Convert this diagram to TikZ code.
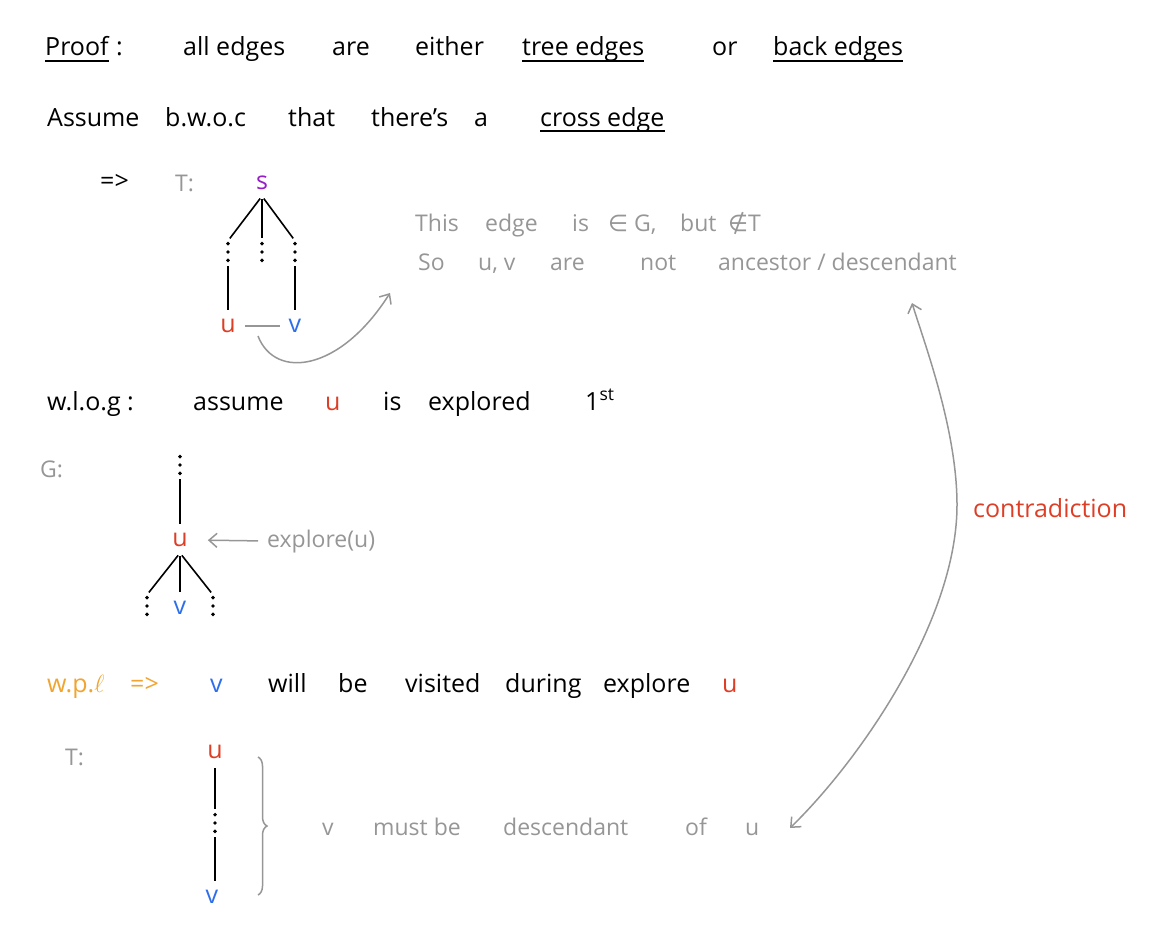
\documentclass[tikz,border=0pt]{standalone}
\usepackage{fontspec}
\setmainfont{Open Sans}
\newfontfamily\symbolfont{DejaVu Sans}
\usetikzlibrary{positioning,arrows.meta,calc,decorations.pathreplacing}
\definecolor{inkRed}{RGB}{222,62,38}
\definecolor{inkBlue}{RGB}{45,110,235}
\definecolor{inkPurple}{RGB}{150,30,200}
\definecolor{inkOrange}{RGB}{240,165,50}
\definecolor{inkGray}{RGB}{150,150,150}
\newcommand{\handfont}{\fontsize{25}{30}\selectfont}
\newcommand{\notefont}{\fontsize{23}{28}\selectfont}
\tikzset {
    style ink/.style={
        anchor=base west,
        inner sep=0pt,
        font=\handfont,
    },
    style note/.style={
        style ink,
        font=\notefont,
        text=inkGray,
    },
    style letter/.style={
        inner sep=6pt,
        font=\handfont,
    },
    style edge/.style={
        draw=black,
        line width=1.6pt,
        shorten <=3pt,
        shorten >=3pt,
    },
    style grey line/.style={
        draw=inkGray,
        line width=1.5pt,
    },
    style rule/.style={
        draw=black,
        line width=1.8pt,
    },
    style dots/.style={
        minimum width=7pt,
        minimum height=22pt,
        inner sep=0pt,
        path picture={
            \foreach \pos in {0.12,0.5,0.88}
                \fill ($(path picture bounding box.south)!\pos!(path picture bounding box.north)$) circle (1.9pt);
        },
    },
}
\begin{document}
\begin{tikzpicture}
        [x=1pt, y=-1pt, >={Straight Barb[length=8pt,width=14pt]}]
        \useasboundingbox (0,0) rectangle (1166,925);

        % first two lines
        \node[style ink] at (45,56) (proof) {Proof};
        \node[style ink] at (116,56) (proofColon) {:};
        \node[style ink] at (183,56) (allEdges) {all edges};
        \node[style ink] at (332,56) (areA) {are};
        \node[style ink] at (415,56) (either) {either};
        \node[style ink] at (522,56) (treeEdges) {tree edges};
        \node[style ink] at (712,56) (orA) {or};
        \node[style ink] at (773,56) (backEdges) {back edges};
        \draw[style rule] ([yshift=-5pt]proof.base west) -- ([yshift=-5pt]proof.base east);
        \draw[style rule] ([yshift=-5pt]treeEdges.base west) -- ([yshift=-5pt]treeEdges.base east);
        \draw[style rule] ([yshift=-5pt]backEdges.base west) -- ([yshift=-5pt]backEdges.base east);

        \node[style ink] at (47,127) (assume) {Assume};
        \node[style ink] at (165,127) (bwoc) {b.w.o.c};
        \node[style ink] at (288,127) (that) {that};
        \node[style ink] at (371,127) (theres) {there's};
        \node[style ink] at (474,127) (aA) {a};
        \node[style ink] at (540,127) (crossEdge) {cross edge};
        \draw[style rule] ([yshift=-4pt]crossEdge.base west) -- ([yshift=-4pt]crossEdge.base east);

        % tree T with the cross edge
        \node[style ink] at (100,190) (impliesA) {=>};
        \node[style note] at (175,192) (tLabel) {T:};
        \node[style letter, text=inkPurple] at (262,183) (sT) {s};
        \node[style dots] at (228,252) (dotsTa) {};
        \node[style dots] at (262,252) (dotsTb) {};
        \node[style dots] at (295,252) (dotsTc) {};
        \node[style letter, text=inkRed] at (228,326) (uT) {u};
        \node[style letter, text=inkBlue] at (295,326) (vT) {v};
        \draw[style edge] (sT.south) -- (dotsTa.north);
        \draw[style edge] (sT.south) -- (dotsTb.north);
        \draw[style edge] (sT.south) -- (dotsTc.north);
        \draw[style edge] (dotsTa.south) -- (uT.north);
        \draw[style edge] (dotsTc.south) -- (vT.north);
        \draw[style grey line, shorten <=3pt, shorten >=3pt] (uT.east) -- (vT.west);

        \node[style note] at (415,232) (thisEdge) {This};
        \node[style note] at (485,232) (edgeB) {edge};
        \node[style note] at (572,232) (isB) {is};
        \node[style note] at (608,232) (inG) {{\symbolfont ∈} G,};
        \node[style note] at (680,232) (but) {but};
        \node[style note] at (728,232) (notinT) {{\symbolfont ∉}T};
        \node[style note] at (418,270) (so) {So};
        \node[style note] at (478,270) (uvPair) {u, v};
        \node[style note] at (550,270) (areB) {are};
        \node[style note] at (640,270) (notA) {not};
        \node[style note] at (718,270) (ancDesc) {ancestor / descendant};
        \coordinate (crossStart) at (258,336);
        \coordinate (crossEnd) at (390,293);
        \draw[style grey line, ->] (crossStart) .. controls (275,380) and (340,372) .. (crossEnd);

        % w.l.o.g and the graph G
        \node[style ink] at (47,410) (wlog) {w.l.o.g :};
        \node[style ink] at (193,410) (assumeB) {assume};
        \node[style ink, text=inkRed] at (325,410) (uWord) {u};
        \node[style ink] at (383,410) (isC) {is};
        \node[style ink] at (428,410) (explored) {explored};
        \node[style ink] at (585,410) (first) {1\textsuperscript{st}};

        \node[style note] at (40,477) (gLabel) {G:};
        \node[style dots] at (180,465) (dotsG) {};
        \node[style letter, text=inkRed] at (180,540) (uG) {u};
        \node[style dots] at (147,606) (dotsGa) {};
        \node[style letter, text=inkBlue] at (180,608) (vG) {v};
        \node[style dots] at (213,606) (dotsGb) {};
        \node[style note] at (267,547) (exploreG) {explore(u)};
        \draw[style edge] (dotsG.south) -- (uG.north);
        \draw[style edge] (uG.south) -- (dotsGa.north);
        \draw[style edge] (uG.south) -- (vG.north);
        \draw[style edge] (uG.south) -- (dotsGb.north);
        \draw[style grey line, ->, shorten <=9pt, shorten >=14pt] (exploreG.west) -- (uG.east);

        % white path lemma
        \node[style ink, text=inkOrange] at (47,692) (wpl) {w.p.$\ell$};
        \node[style ink, text=inkOrange] at (130,692) (impliesB) {=>};
        \node[style ink, text=inkBlue] at (210,692) (vWord) {v};
        \node[style ink] at (268,692) (will) {will};
        \node[style ink] at (338,692) (beA) {be};
        \node[style ink] at (405,692) (visited) {visited};
        \node[style ink] at (505,692) (during) {during};
        \node[style ink] at (603,692) (exploreB) {explore};
        \node[style ink, text=inkRed] at (722,692) (uWordB) {u};

        % tree T with v below u
        \node[style note] at (65,765) (tLabelB) {T:};
        \node[style letter, text=inkRed] at (215,752) (uD) {u};
        \node[style dots] at (215,823) (dotsD) {};
        \node[style letter, text=inkBlue] at (212,897) (vD) {v};
        \draw[style edge] (uD.south) -- (dotsD.north);
        \draw[style edge] (dotsD.south) -- (dotsD.south |- vD.north);
        \coordinate (braceTop) at (258,757);
        \coordinate (braceBottom) at (258,895);
        \draw[style grey line, decorate, decoration={brace, amplitude=9pt}] (braceTop) -- (braceBottom);

        \node[style note] at (322,835) (vMust) {v};
        \node[style note] at (373,835) (mustBe) {must be};
        \node[style note] at (503,835) (descendant) {descendant};
        \node[style note] at (685,835) (ofA) {of};
        \node[style note] at (745,835) (uOf) {u};

        % contradiction arc
        \coordinate (arcTop) at (912,303);
        \coordinate (arcMid) at (957,505);
        \coordinate (arcBottom) at (790,828);
        \draw[style grey line, <->] (arcTop) .. controls (925,345) and (957,430) .. (arcMid)
            .. controls (957,620) and (860,760) .. (arcBottom);
        \node[style ink, text=inkRed] at (973,517) (contradiction) {contradiction};
    \end{tikzpicture}
\end{document}
